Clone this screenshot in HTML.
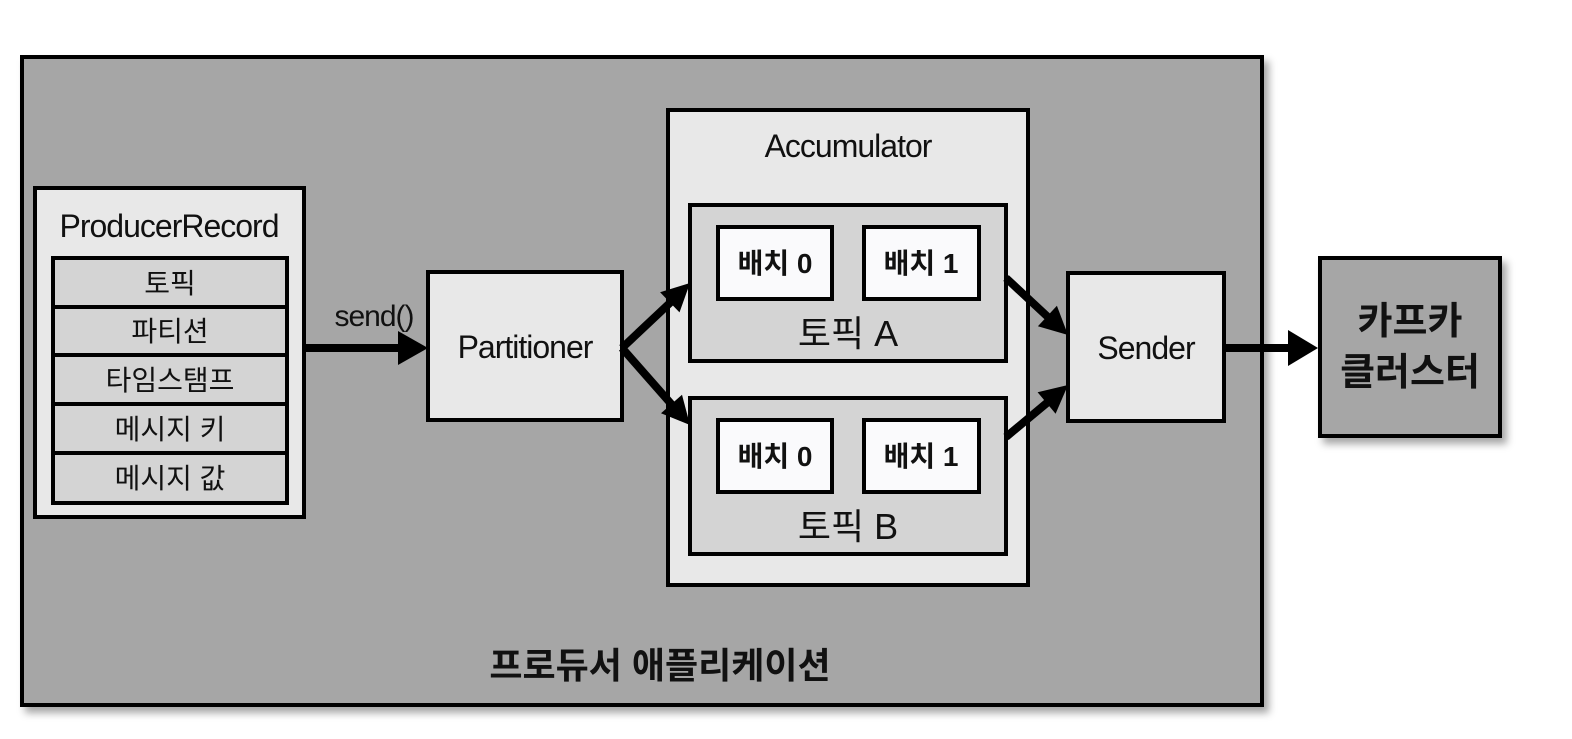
<!DOCTYPE html>
<html><head><meta charset="utf-8"><style>
body{margin:0;background:#fff}
svg text{font-family:"Liberation Sans","Noto Sans CJK KR",sans-serif;fill:#111}
</style></head><body>
<svg width="1572" height="734" viewBox="0 0 1572 734" xmlns="http://www.w3.org/2000/svg">
<defs>
<filter id="sh" x="-10%" y="-10%" width="130%" height="130%"><feDropShadow dx="5" dy="6" stdDeviation="4" flood-color="#000" flood-opacity="0.35"/></filter>
</defs>
<rect x="22" y="57" width="1240" height="648" fill="#a6a6a6" stroke="#000" stroke-width="4" filter="url(#sh)"/>
<rect x="35" y="188" width="269" height="329" fill="#e8e8e8" stroke="#000" stroke-width="4"/>
<text x="169" y="237" font-size="32" text-anchor="middle" letter-spacing="-1">ProducerRecord</text>
<g stroke="#000" stroke-width="4" fill="#d4d4d4">
<rect x="53" y="258" width="234" height="49"/>
<rect x="53" y="307" width="234" height="48"/>
<rect x="53" y="355" width="234" height="49"/>
<rect x="53" y="404" width="234" height="49"/>
<rect x="53" y="453" width="234" height="50"/>
</g>
<g font-size="28" text-anchor="middle">
<text x="170" y="293">토픽</text>
<text x="170" y="341">파티션</text>
<text x="170" y="390">타임스탬프</text>
<text x="170" y="439">메시지 키</text>
<text x="170" y="488">메시지 값</text>
</g>
<text x="374" y="326" font-size="30" text-anchor="middle" letter-spacing="-1">send()</text>
<rect x="428" y="272" width="194" height="148" fill="#e8e8e8" stroke="#000" stroke-width="4"/>
<text x="525" y="358" font-size="32" text-anchor="middle" letter-spacing="-1">Partitioner</text>
<rect x="668" y="110" width="360" height="475" fill="#e8e8e8" stroke="#000" stroke-width="4"/>
<text x="848" y="157" font-size="32" text-anchor="middle" letter-spacing="-1">Accumulator</text>
<rect x="690" y="205" width="316" height="156" fill="#d4d4d4" stroke="#000" stroke-width="4"/>
<rect x="690" y="398" width="316" height="156" fill="#d4d4d4" stroke="#000" stroke-width="4"/>
<g fill="#fafafc" stroke="#000" stroke-width="4">
<rect x="718" y="227" width="114" height="72"/><rect x="864" y="227" width="115" height="72"/>
<rect x="718" y="420" width="114" height="72"/><rect x="864" y="420" width="115" height="72"/>
</g>
<g font-size="28" text-anchor="middle" font-weight="bold">
<text x="775" y="273">배치 0</text><text x="921" y="273">배치 1</text>
<text x="775" y="466">배치 0</text><text x="921" y="466">배치 1</text>
</g>
<text x="848" y="346" font-size="36" text-anchor="middle">토픽 A</text>
<text x="848" y="539" font-size="36" text-anchor="middle">토픽 B</text>
<rect x="1068" y="273" width="156" height="148" fill="#e8e8e8" stroke="#000" stroke-width="4"/>
<text x="1146" y="359" font-size="32" text-anchor="middle" letter-spacing="-1">Sender</text>
<rect x="1320" y="258" width="180" height="178" fill="#a6a6a6" stroke="#000" stroke-width="4" filter="url(#sh)"/>
<text x="1410" y="334" font-size="38" font-weight="bold" text-anchor="middle">카프카</text>
<text x="1410" y="385" font-size="38" font-weight="bold" text-anchor="middle">클러스터</text>
<text x="660" y="678" font-size="36" font-weight="bold" text-anchor="middle">프로듀서 애플리케이션</text>
<g stroke="#000" stroke-width="8">
<line x1="304" y1="348" x2="400" y2="348"/>
<line x1="622" y1="348" x2="672" y2="301"/>
<line x1="622" y1="348" x2="673" y2="406"/>
<line x1="1006" y1="278" x2="1049" y2="318"/>
<line x1="1006" y1="437" x2="1048" y2="402"/>
<line x1="1224" y1="348" x2="1290" y2="348"/>
</g>
<g fill="#000">
<polygon points="398,331 428,348 398,365"/>
<polygon points="690,283 679.5,312.4 660.1,292.2"/>
<polygon points="690,425 682,394.7 661,413.3"/>
<polygon points="1068,335 1056.9,305.7 1037.9,326.3"/>
<polygon points="1068,385 1055.6,413.7 1037.6,392.3"/>
<polygon points="1288,330 1318,348 1288,366"/>
</g>
</svg>
</body></html>
